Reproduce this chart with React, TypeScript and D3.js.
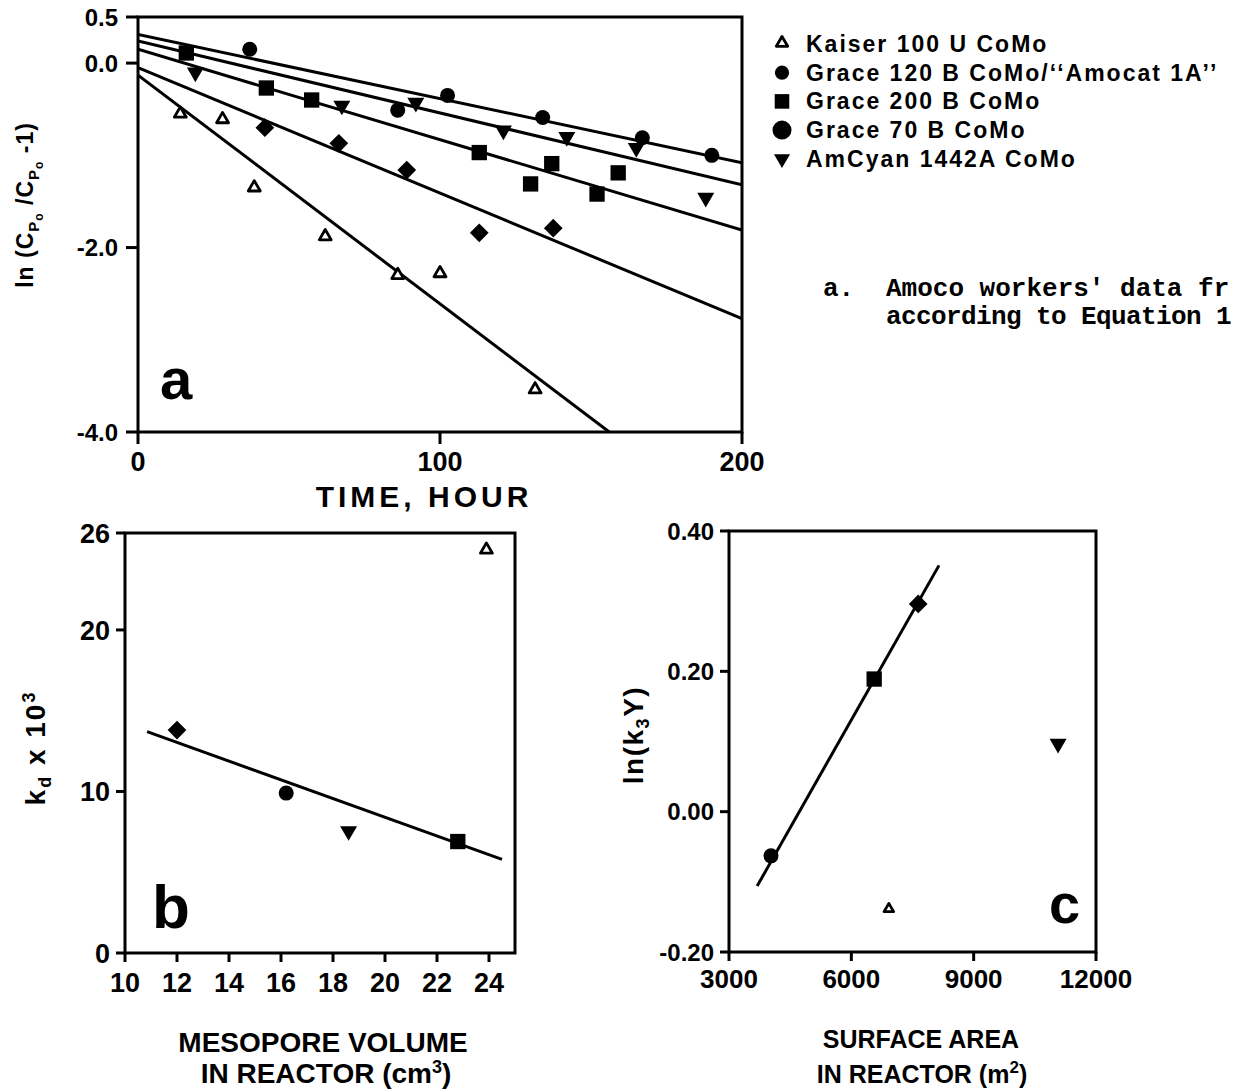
import React from 'react';
import * as d3 from 'd3';

// ---------- DATA ----------
const seriesNames = [
  'Kaiser 100 U CoMo',
  'Grace 120 B CoMo/\u2018\u2018Amocat 1A\u2019\u2019',
  'Grace 200 B CoMo',
  'Grace 70 B CoMo',
  'AmCyan 1442A CoMo',
];
const plotShapes = ['triOpen', 'circle', 'square', 'diamond', 'triDown'];
const legendShapes = ['triOpen', 'circle', 'square', 'bigCircle', 'triDown'];
const captionLines = ["Amoco workers' data fr", 'according to Equation 1'];

// Panel a: time (h) and ln(Cpo/(Cp-1))
const kaiserT = [14, 28, 38.5, 62, 86, 100, 131.5];
const kaiserY = [-0.56, -0.62, -1.36, -1.89, -2.31, -2.29, -3.55];
const grace120T = [37, 86, 102.5, 134, 167, 190];
const grace120Y = [0.15, -0.51, -0.35, -0.59, -0.81, -1.0];
const grace200T = [16, 42.5, 57.5, 113, 130, 137, 152, 159];
const grace200Y = [0.11, -0.27, -0.4, -0.97, -1.31, -1.09, -1.42, -1.19];
const grace70T = [42, 66.5, 89, 113, 137.5];
const grace70Y = [-0.7, -0.87, -1.16, -1.84, -1.79];
const amcyanT = [19, 67.5, 92, 121, 142, 165, 188];
const amcyanY = [-0.1, -0.46, -0.43, -0.73, -0.8, -0.92, -1.46];
const fitIntercepts = [-0.13, 0.31, 0.15, -0.05, 0.24];
const fitSlopes = [-0.0248, -0.00695, -0.0098, -0.0136, -0.0078];
const aXTicks = [0, 100, 200];
const aYTicks = [0.5, 0.0, -2.0, -4.0];

// Panel b: mesopore volume vs kd x 10^3
const mesoVol = [23.9, 16.2, 22.8, 12.0, 18.6];
const kd = [24.9, 9.9, 6.9, 13.8, 7.55];
const bFitX = [10.85, 24.5];
const bFitY = [13.7, 5.8];
const bXTicks = [10, 12, 14, 16, 18, 20, 22, 24];
const bYTicks = [0, 10, 20, 26];

// Panel c: surface area vs ln(k3 eta)
const surfArea = [6920, 4030, 6560, 7640, 11070];
const lnK3 = [-0.14, -0.063, 0.189, 0.296, 0.097];
const cFitX = [3690, 8150];
const cFitY = [-0.106, 0.351];
const cXTicks = [3000, 6000, 9000, 12000];
const cYTicks = [0.4, 0.2, 0.0, -0.2];

// ---------- HELPERS ----------
const FONT = "'Liberation Sans', Arial, Helvetica, sans-serif";

function Marker({ kind, x, y, scale = 1 }: { kind: string; x: number; y: number; scale?: number }) {
  if (kind === 'circle') return <circle cx={x} cy={y} r={7.5 * scale} fill="#000" />;
  if (kind === 'bigCircle') return <circle cx={x} cy={y} r={10 * scale} fill="#000" />;
  if (kind === 'square') {
    const p = d3.symbol().type(d3.symbolSquare).size(235 * scale * scale)();
    return <path d={p!} transform={`translate(${x},${y})`} fill="#000" />;
  }
  if (kind === 'diamond') {
    const p = d3.symbol().type(d3.symbolSquare).size(175 * scale * scale)();
    return <path d={p!} transform={`translate(${x},${y}) rotate(45)`} fill="#000" />;
  }
  if (kind === 'triDown') {
    const p = d3.symbol().type(d3.symbolTriangle).size(125 * scale * scale)();
    return <path d={p!} transform={`translate(${x},${y}) rotate(180)`} fill="#000" />;
  }
  const p = d3.symbol().type(d3.symbolTriangle).size(62 * scale * scale)();
  return <path d={p!} transform={`translate(${x},${y - 1})`} fill="#fff" stroke="#000" strokeWidth={2.8} strokeLinejoin="round" />;
}

type AxisProps = {
  x: d3.ScaleLinear<number, number>;
  y: d3.ScaleLinear<number, number>;
  xTicks: number[];
  yTicks: number[];
  xFmt: (v: number) => string;
  yFmt: (v: number) => string;
  xFont: number;
  yFont: number;
  xLabelY: number;
  tickLen?: number;
  yGap?: number;
};

function Frame({ x, y, xTicks, yTicks, xFmt, yFmt, xFont, yFont, xLabelY, tickLen = 10, yGap = 3 }: AxisProps) {
  const [x0, x1] = x.range();
  const [y0, y1] = y.range();
  return (
    <g stroke="#000" strokeWidth={3} fill="none">
      <rect x={x0} y={y1} width={x1 - x0} height={y0 - y1} />
      {xTicks.map((t) => (
        <line key={'xt' + t} x1={x(t)} x2={x(t)} y1={y0} y2={y0 + tickLen} />
      ))}
      {yTicks.map((t) => (
        <line key={'yt' + t} x1={x0 - tickLen} x2={x0} y1={y(t)} y2={y(t)} />
      ))}
      <g stroke="none" fill="#000" fontFamily={FONT} fontWeight="bold">
        {xTicks.map((t) => (
          <text key={'xl' + t} x={x(t)} y={xLabelY} fontSize={xFont} textAnchor="middle">
            {xFmt(t)}
          </text>
        ))}
        {yTicks.map((t) => (
          <text key={'yl' + t} x={x0 - tickLen - yGap} y={y(t) + yFont * 0.36} fontSize={yFont} textAnchor="end">
            {yFmt(t)}
          </text>
        ))}
      </g>
    </g>
  );
}

export default function App() {
  const ax = d3.scaleLinear().domain([0, 200]).range([138, 742]);
  const ay = d3.scaleLinear().domain([-4, 0.5]).range([432, 17]);
  const bx = d3.scaleLinear().domain([10, 25]).range([125, 515]);
  const by = d3.scaleLinear().domain([0, 26]).range([953, 533]);
  const cx = d3.scaleLinear().domain([3000, 12000]).range([729, 1096]);
  const cy = d3.scaleLinear().domain([-0.2, 0.4]).range([952, 531]);

  const aSeries = [
    [kaiserT, kaiserY],
    [grace120T, grace120Y],
    [grace200T, grace200Y],
    [grace70T, grace70Y],
    [amcyanT, amcyanY],
  ];

  const line = d3.line<[number, number]>();

  const aLines = fitIntercepts.map((b0, i) => {
    const m = fitSlopes[i];
    let tEnd = 200;
    const yEnd = b0 + m * 200;
    if (yEnd < -4) tEnd = (-4 - b0) / m;
    return line([
      [ax(0), ay(b0)],
      [ax(tEnd), ay(b0 + m * tEnd)],
    ]);
  });

  return (
    <svg
      width={1245}
      height={1091}
      style={{ position: 'absolute', left: 0, top: 0, background: '#fff', display: 'block' }}
    >
      <rect x={0} y={0} width={1245} height={1091} fill="#fff" />
      <defs>
        <clipPath id="clipA">
          <rect x={138} y={17} width={604} height={415} />
        </clipPath>
      </defs>

      {/* ---------- Panel a ---------- */}
      <g clipPath="url(#clipA)">
        {aLines.map((d, i) => (
          <path key={'fa' + i} d={d!} stroke="#000" strokeWidth={3} fill="none" />
        ))}
      </g>
      <Frame
        x={ax}
        y={ay}
        xTicks={aXTicks}
        yTicks={aYTicks}
        xFmt={(v) => String(v)}
        yFmt={(v) => v.toFixed(1)}
        xFont={27}
        yFont={24}
        xLabelY={471}
        tickLen={12}
        yGap={8}
      />
      {aSeries.map(([ts, ys], i) =>
        ts.map((t, j) => <Marker key={`a${i}-${j}`} kind={plotShapes[i]} x={ax(t)} y={ay(ys[j])} />)
      )}
      <text x={160} y={399} fontFamily={FONT} fontWeight="bold" fontSize={58}>a</text>
      <text x={424} y={507} fontFamily={FONT} fontWeight="bold" fontSize={30} textAnchor="middle" letterSpacing={4}>
        TIME, HOUR
      </text>
      <text
        transform="translate(33,205) rotate(-90)"
        fontFamily={FONT}
        fontWeight="bold"
        fontSize={23}
        textAnchor="middle"
        letterSpacing={1}
      >
        ln (C<tspan fontSize={15} dy={6}>P</tspan><tspan fontSize={12} dy={4}>o</tspan>
        <tspan dy={-10}> /C</tspan><tspan fontSize={15} dy={6}>P</tspan><tspan fontSize={12} dy={4}>o</tspan>
        <tspan dy={-10}> -1)</tspan>
      </text>

      {/* Legend */}
      <g fontFamily={FONT} fontWeight="bold" fontSize={23} letterSpacing={2}>
        {seriesNames.map((n, i) => (
          <g key={'lg' + i}>
            <Marker kind={legendShapes[i]} x={782} y={44 + i * 28.7} scale={0.95} />
            <text x={806} y={44 + i * 28.7 + 8}>{n}</text>
          </g>
        ))}
      </g>

      {/* Caption */}
      <g fontFamily="'Liberation Mono', 'DejaVu Sans Mono', monospace" fontWeight="bold" fontSize={26}>
        <text x={823} y={296}>a.</text>
        <text x={886} y={296}>{captionLines[0]}</text>
        <text x={886} y={324} letterSpacing={-0.6}>{captionLines[1]}</text>
      </g>

      {/* ---------- Panel b ---------- */}
      <path
        d={line([
          [bx(bFitX[0]), by(bFitY[0])],
          [bx(bFitX[1]), by(bFitY[1])],
        ])!}
        stroke="#000"
        strokeWidth={3}
        fill="none"
      />
      <Frame
        x={bx}
        y={by}
        xTicks={bXTicks}
        yTicks={bYTicks}
        xFmt={(v) => String(v)}
        yFmt={(v) => String(v)}
        xFont={27}
        yFont={27}
        xLabelY={992}
        tickLen={9}
        yGap={6}
      />
      {mesoVol.map((v, i) => (
        <Marker key={'b' + i} kind={plotShapes[i]} x={bx(v)} y={by(kd[i])} />
      ))}
      <text x={152} y={928} fontFamily={FONT} fontWeight="bold" fontSize={62}>b</text>
      <text
        transform="translate(45,748) rotate(-90)"
        fontFamily={FONT}
        fontWeight="bold"
        fontSize={28}
        textAnchor="middle"
        letterSpacing={2}
      >
        k<tspan fontSize={18} dy={6}>d</tspan><tspan dy={-6}> x 10</tspan><tspan fontSize={18} dy={-10}>3</tspan>
      </text>
      <g fontFamily={FONT} fontWeight="bold" fontSize={28} textAnchor="middle">
        <text x={323} y={1052}>MESOPORE VOLUME</text>
        <text x={326} y={1083}>
          IN REACTOR (cm<tspan fontSize={18} dy={-10}>3</tspan><tspan dy={10}>)</tspan>
        </text>
      </g>

      {/* ---------- Panel c ---------- */}
      <path
        d={line([
          [cx(cFitX[0]), cy(cFitY[0])],
          [cx(cFitX[1]), cy(cFitY[1])],
        ])!}
        stroke="#000"
        strokeWidth={3}
        fill="none"
      />
      <Frame
        x={cx}
        y={cy}
        xTicks={cXTicks}
        yTicks={cYTicks}
        xFmt={(v) => String(v)}
        yFmt={(v) => v.toFixed(2)}
        xFont={26}
        yFont={24}
        xLabelY={988}
        tickLen={9}
        yGap={6}
      />
      {surfArea.map((v, i) => (
        <Marker key={'c' + i} kind={plotShapes[i]} x={cx(v)} y={cy(lnK3[i])} scale={i === 0 ? 0.8 : 1} />
      ))}
      <text x={1049} y={923} fontFamily={FONT} fontWeight="bold" fontSize={56}>c</text>
      <text
        transform="translate(643,735) rotate(-90)"
        fontFamily={FONT}
        fontWeight="bold"
        fontSize={28}
        textAnchor="middle"
        letterSpacing={1.5}
      >
        ln(k<tspan fontSize={18} dy={6}>3</tspan><tspan dy={-6}>{'\u03A5'})</tspan>
      </text>
      <g fontFamily={FONT} fontWeight="bold" fontSize={25} textAnchor="middle">
        <text x={921} y={1048}>SURFACE AREA</text>
        <text x={922} y={1083}>
          IN REACTOR (m<tspan fontSize={17} dy={-10}>2</tspan><tspan dy={10}>)</tspan>
        </text>
      </g>
    </svg>
  );
}
